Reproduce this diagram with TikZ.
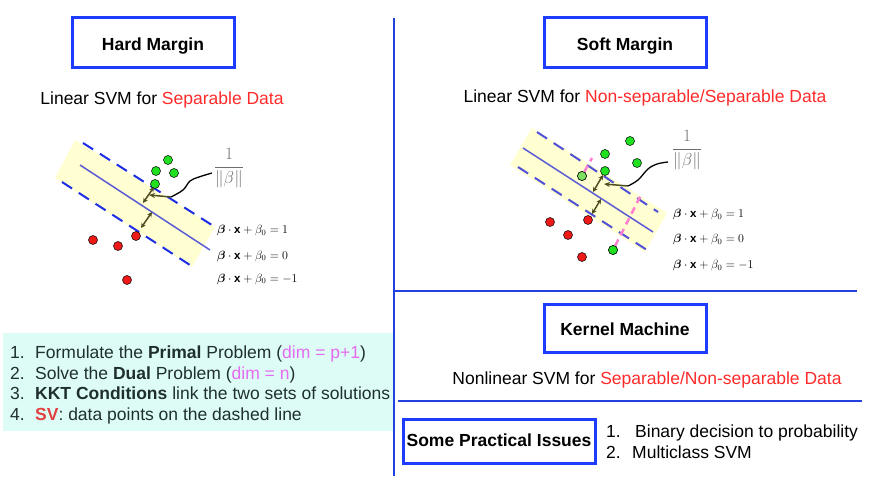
\documentclass[tikz,border=0pt]{standalone}
\usepackage{amsmath,bm}
\usepackage{fontspec}
\setmainfont{Liberation Sans}
\usetikzlibrary{arrows.meta}
\definecolor{boxblue}{HTML}{1E3CFF}
\definecolor{textred}{HTML}{FF2A2A}
\definecolor{bandyellow}{HTML}{FFFFD2}
\definecolor{cyanbg}{HTML}{DDFCF6}
\definecolor{listtext}{HTML}{1F2F2F}
\definecolor{dimmag}{HTML}{E56CF0}
\definecolor{svred}{HTML}{E04040}
\definecolor{midblue}{HTML}{5B5BD6}
\definecolor{dashblue}{HTML}{1E2EE6}
\definecolor{softblue}{HTML}{5050D8}
\definecolor{oliv}{HTML}{4F4F22}
\definecolor{dotgreen}{HTML}{20E020}
\definecolor{dotred}{HTML}{EE1A1A}
\definecolor{dotlgreen}{HTML}{7DE060}
\definecolor{pinkd}{HTML}{FF80D0}
\definecolor{divblue}{HTML}{2040E0}
\definecolor{fracgray}{HTML}{6E6E6E}
\begin{document}
\begin{tikzpicture}[x=1pt,y=-1pt,
  titlebox/.style={draw=boxblue, line width=3pt, font=\fontsize{17.5}{21}\selectfont\bfseries, minimum width=162pt, minimum height=50pt, inner sep=0pt, text height=15pt, text depth=0pt},
  txt/.style={font=\fontsize{17.5}{21}\selectfont, inner sep=0pt, anchor=base},
  ltxt/.style={font=\fontsize{17.5}{21}\selectfont, inner sep=0pt, anchor=base west, text=listtext},
  ptxt/.style={font=\fontsize{17.5}{21}\selectfont, inner sep=0pt, anchor=base west},
  eqn/.style={font=\fontsize{11.5}{14}\selectfont, inner sep=0pt, anchor=base west},
  frac/.style={font=\fontsize{19}{22}\selectfont, inner sep=0pt, text=fracgray},
  dot/.style={circle, draw=black, line width=0.5pt, minimum size=9pt, inner sep=0pt},
  gdot/.style={dot, fill=dotgreen},
  rdot/.style={dot, fill=dotred},
  lgdot/.style={dot, fill=dotlgreen},
  dashln/.style={line width=2pt, dash pattern=on 12pt off 8pt},
  midln/.style={line width=1.5pt, midblue},
  margarrow/.style={oliv, line width=1.5pt, {Stealth[length=5pt,width=5pt]}-{Stealth[length=5pt,width=5pt]}},
  pointer/.style={oliv, line width=1.5pt, -{Stealth[length=6pt,width=5pt]}},
  wiggle/.style={black, line width=1.3pt},
  pinkln/.style={pinkd, line width=2.5pt, dash pattern=on 7pt off 5pt},
  divider/.style={divblue, line width=1.5pt}]
\useasboundingbox (0,0) rectangle (880,478);

% dividers
\draw[divider] (394,18) -- (394,476);
\draw[divider] (394,291) -- (857,291);
\draw[divider] (398,401) -- (862,401);

% title boxes
\node[titlebox] (hard) at (153,43) {Hard Margin};
\node[titlebox] (soft) at (625,43) {Soft Margin};
\node[titlebox, minimum height=48pt, text height=14pt] (kernel) at (625,328) {Kernel Machine};
\node[titlebox, minimum width=192pt, minimum height=44pt, text height=11pt] (practical) at (499,441) {Some Practical Issues};

% subtitles
\node[txt] (hardsub) at (162,105) {Linear SVM for \textcolor{textred}{Separable Data}};
\node[txt] (softsub) at (645,103) {Linear SVM for \textcolor{textred}{Non-separable/Separable Data}};
\node[txt] (kernsub) at (647,384) {Nonlinear SVM for \textcolor{textred}{Separable/Non-separable Data}};

% ---------- hard margin figure ----------
\fill[bandyellow] (75,140) -- (215,227) -- (192,267) -- (55,178) -- cycle;
\draw[dashln, dashblue] (83,143) -- (215,227);
\draw[midln] (80,165) -- (210,250);
\draw[dashln, dashblue] (62,182) -- (193,267);
\node[gdot] (hg1) at (168,160) {};
\node[gdot] (hg2) at (156,171) {};
\node[gdot] (hg3) at (174,173) {};
\node[gdot] (hg4) at (155,184) {};
\node[rdot] (hr1) at (93,240) {};
\node[rdot] (hr2) at (118,246) {};
\node[rdot] (hr3) at (136,236) {};
\node[rdot] (hr4) at (127,280) {};
\coordinate (ha1) at (154,187);
\coordinate (ha2) at (143,203);
\coordinate (ha3) at (152,212);
\coordinate (ha4) at (141,228);
\draw[margarrow] (ha1) -- (ha2);
\draw[margarrow] (ha3) -- (ha4);
\coordinate (hp0) at (149,195);
\coordinate (hc1) at (171,197);
\coordinate (hc2) at (183,190);
\coordinate (hc3) at (190,181);
\coordinate (hc4) at (199,177);
\coordinate (hc5) at (212,173);
\draw[pointer] (hc1) -- (hp0);
\draw[wiggle] plot[smooth, tension=0.6] coordinates {(hc1) (hc2) (hc3) (hc4) (hc5)};
\node[frac] (hfrac) at (229,168) {$\displaystyle\frac{1}{\|\beta\|}$};
\node[eqn] (heq1) at (217,234) {$\bm{\beta}\cdot\mathbf{x}+\beta_0=1$};
\node[eqn] (heq2) at (217,259) {$\bm{\beta}\cdot\mathbf{x}+\beta_0=0$};
\node[eqn] (heq3) at (217,282) {$\bm{\beta}\cdot\mathbf{x}+\beta_0=-1$};

% ---------- soft margin figure ----------
\fill[bandyellow] (532,128) -- (667,213) -- (645,252) -- (510,165) -- cycle;
\draw[dashln, softblue] (537,132) -- (658,212);
\draw[midln] (523,148) -- (653,232);
\draw[dashln, softblue] (518,167) -- (647,250);
\node[lgdot] (sg5) at (582,176) {};
\node[gdot] (sg6) at (613,250) {};
\coordinate (sp1) at (592,158);
\coordinate (sp2) at (641,195);
\draw[pinkln] (sg5) -- (sp1);
\draw[pinkln] (sg6) -- (sp2);
\node[lgdot] at (582,176) {};
\node[gdot] at (613,250) {};
\node[gdot] (sg1) at (630,141) {};
\node[gdot] (sg2) at (605,154) {};
\node[gdot] (sg3) at (637,163) {};
\node[gdot] (sg4) at (605,171) {};
\node[rdot] (sr1) at (550,222) {};
\node[rdot] (sr2) at (568,235) {};
\node[rdot] (sr3) at (588,220) {};
\node[rdot] (sr4) at (582,257) {};
\coordinate (sa1) at (603,175);
\coordinate (sa2) at (593,192);
\coordinate (sa3) at (601,199);
\coordinate (sa4) at (592,214);
\draw[margarrow] (sa1) -- (sa2);
\draw[margarrow] (sa3) -- (sa4);
\coordinate (sp0) at (604,184);
\coordinate (sc1) at (628,186);
\coordinate (sc2) at (638,180);
\coordinate (sc3) at (648,169);
\coordinate (sc4) at (657,164);
\coordinate (sc5) at (668,162);
\draw[pointer] (sc1) -- (sp0);
\draw[wiggle] plot[smooth, tension=0.6] coordinates {(sc1) (sc2) (sc3) (sc4) (sc5)};
\node[frac] (sfrac) at (687,150) {$\displaystyle\frac{1}{\|\beta\|}$};
\node[eqn] (seq1) at (673,218) {$\bm{\beta}\cdot\mathbf{x}+\beta_0=1$};
\node[eqn] (seq2) at (673,243) {$\bm{\beta}\cdot\mathbf{x}+\beta_0=0$};
\node[eqn] (seq3) at (673,269) {$\bm{\beta}\cdot\mathbf{x}+\beta_0=-1$};

% ---------- summary list ----------
\fill[cyanbg] (3,333) rectangle (393,431);
\node[ltxt] (n1) at (10,358) {1.};
\node[ltxt] (l1) at (35,358) {Formulate the \textbf{Primal} Problem (\textcolor{dimmag}{dim = p+1})};
\node[ltxt] (n2) at (10,379) {2.};
\node[ltxt] (l2) at (35,379) {Solve the \textbf{Dual} Problem (\textcolor{dimmag}{dim = n})};
\node[ltxt] (n3) at (10,399) {3.};
\node[ltxt] (l3) at (35,399) {\textbf{KKT Conditions} link the two sets of solutions};
\node[ltxt] (n4) at (10,420) {4.};
\node[ltxt] (l4) at (35,420) {\textcolor{svred}{\textbf{SV}}: data points on the dashed line};

% ---------- practical issues list ----------
\node[ptxt] (p1n) at (606,437) {1.};
\node[ptxt] (p1) at (635,437) {Binary decision to probability};
\node[ptxt] (p2n) at (606,458) {2.};
\node[ptxt] (p2) at (632,458) {Multiclass SVM};
\end{tikzpicture}
\end{document}
